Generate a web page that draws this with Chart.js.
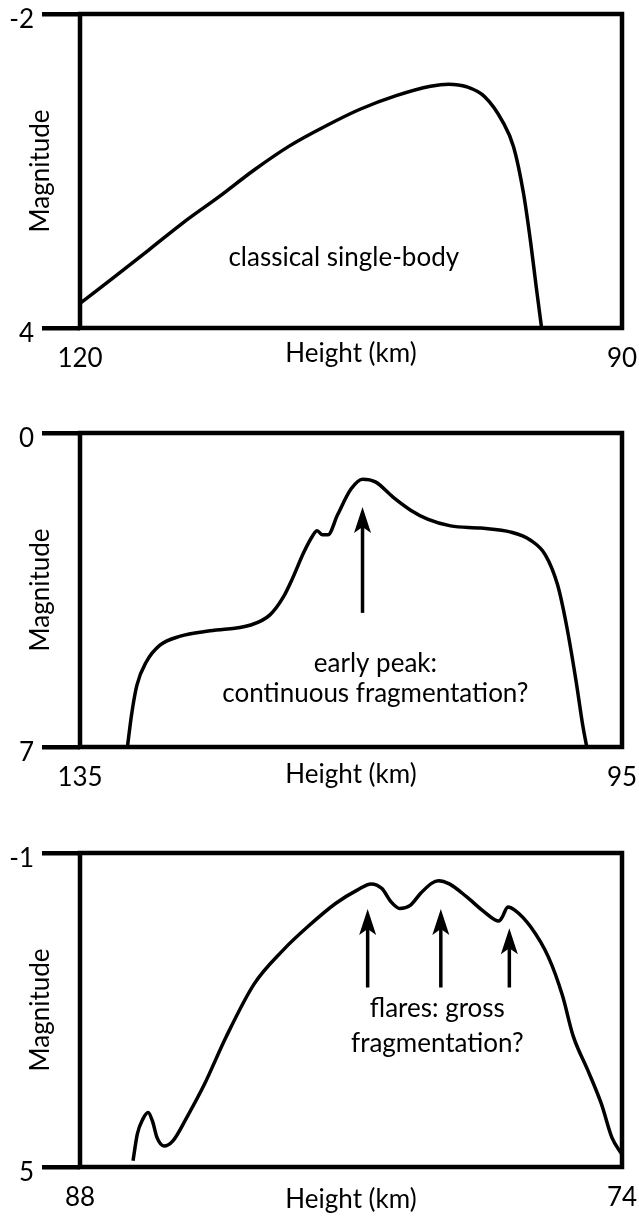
<!DOCTYPE html>
<html>
<head>
<meta charset="utf-8">
<script src="https://cdn.jsdelivr.net/npm/chart.js@4.4.1/dist/chart.umd.min.js"></script>
<style>
  body { margin: 0; background: #fff; }
  .panel { position: absolute; left: 0; }
</style>
</head>
<body>
<canvas id="chart1" class="panel" width="639" height="390" style="top:0px"></canvas>
<canvas id="chart2" class="panel" width="639" height="390" style="top:419px"></canvas>
<canvas id="chart3" class="panel" width="639" height="390" style="top:839px"></canvas>
<script>
// Light curve 1 - classical single-body
var height1 = [120, 118.2, 116.2, 114.3, 112.3, 110.4, 108.4, 106.4, 104.5, 102.5, 100.6, 99.6, 98.6, 97.6, 96.6, 96.0, 95.45, 95.05, 94.75, 94.45];
var mag1 = [3.53, 3.05, 2.51, 1.99, 1.49, 0.99, 0.52, 0.14, -0.18, -0.44, -0.62, -0.66, -0.61, -0.42, 0.06, 0.54, 1.43, 2.38, 3.21, 4.0];

// Light curve 2 - early peak
var height2 = [131.5, 131.2, 130.8, 130.1, 129.1, 127.6, 125.4, 122.4, 121.0, 120.0, 119.3, 118.5, 117.85, 117.5, 117.1, 116.7, 116.0, 115.0, 114.15, 113.2, 111.9, 110.6, 109.35, 107.65, 105.45, 103.2, 101.75, 100.65, 99.75, 99.1, 98.4, 97.9, 97.6];
var mag2 = [7.0, 6.29, 5.62, 5.10, 4.73, 4.53, 4.41, 4.28, 4.06, 3.66, 3.23, 2.67, 2.30, 2.18, 2.27, 2.27, 1.83, 1.25, 1.03, 1.09, 1.43, 1.72, 1.92, 2.07, 2.12, 2.21, 2.39, 2.72, 3.39, 4.28, 5.51, 6.51, 7.0];

// Light curve 3 - flares
var height3 = [86.63, 86.52, 86.38, 86.24, 86.13, 86.01, 85.83, 85.6, 85.24, 84.78, 84.23, 83.5, 82.76, 82.12, 81.39, 80.84, 80.48, 80.2, 79.97, 79.74, 79.47, 79.2, 78.92, 78.74, 78.46, 78.01, 77.55, 77.18, 77.09, 76.95, 76.77, 76.36, 75.9, 75.54, 75.26, 74.89, 74.53, 74.26, 74.0];
var mag3 = [4.88, 4.37, 4.09, 3.96, 4.12, 4.44, 4.6, 4.5, 4.05, 3.41, 2.52, 1.5, 0.86, 0.41, -0.04, -0.29, -0.41, -0.32, -0.07, 0.06, 0.0, -0.23, -0.42, -0.47, -0.41, -0.16, 0.13, 0.3, 0.22, 0.03, 0.09, 0.41, 0.99, 1.72, 2.5, 3.14, 3.8, 4.44, 4.76];

// axis ends: [left, right] for height, [top, bottom] for magnitude
var heightAxis1 = [120, 90], magAxis1 = [-2, 4];
var heightAxis2 = [135, 95], magAxis2 = [0, 7];
var heightAxis3 = [88, 74], magAxis3 = [-1, 5];

// arrows: height, tail magnitude, head magnitude
var arrowHeights2 = [114.15], arrowFrom2 = [4.01], arrowTo2 = [1.65];
var arrowHeights3 = [80.57, 78.68, 76.91], arrowFrom3 = [1.57, 1.57, 1.57], arrowTo3 = [0.07, 0.07, 0.44];

var FONT = "Lato, 'Liberation Sans', sans-serif";
var FSIZE = 26;

// frame, arrows and captions
var notesPlugin = {
    id: 'notes',
    afterDatasetsDraw: function (chart, args, opts) {
        var ctx = chart.ctx, xs = chart.scales.x, ys = chart.scales.y;
        var a = chart.chartArea;
        ctx.save();
        ctx.strokeStyle = '#000';
        ctx.fillStyle = '#000';
        ctx.lineWidth = 4.5;
        ctx.strokeRect(a.left, a.top, a.right - a.left, a.bottom - a.top);

        var heights = opts.arrowHeights || [];
        for (var i = 0; i < heights.length; i++) {
            var x = xs.getPixelForValue(heights[i]);
            var y0 = ys.getPixelForValue(opts.arrowFrom[i]);
            var y1 = ys.getPixelForValue(opts.arrowTo[i]);
            ctx.lineWidth = 3.5;
            ctx.beginPath();
            ctx.moveTo(x, y0);
            ctx.lineTo(x, y1 + 14);
            ctx.stroke();
            ctx.beginPath();
            ctx.moveTo(x, y1);
            ctx.lineTo(x + 8.5, y1 + 26);
            ctx.lineTo(x, y1 + 20);
            ctx.lineTo(x - 8.5, y1 + 26);
            ctx.closePath();
            ctx.fill();
        }

        ctx.font = FSIZE + 'px ' + FONT;
        ctx.textAlign = 'center';
        ctx.textBaseline = 'middle';
        (opts.texts || []).forEach(function (t) {
            ctx.fillText(t.text, xs.getPixelForValue(t.h), ys.getPixelForValue(t.m));
        });
        ctx.restore();
    }
};

function makeChart(id, heights, mags, hAxis, mAxis, titlePad, notes) {
    var points = heights.map(function (h, i) { return { x: h, y: mags[i] }; });
    var font = { family: FONT, size: FSIZE };
    return new Chart(document.getElementById(id), {
        type: 'line',
        data: {
            datasets: [{
                data: points,
                borderColor: '#000',
                borderWidth: 3.5,
                pointRadius: 0,
                fill: false,
                cubicInterpolationMode: 'monotone'
            }]
        },
        options: {
            responsive: false,
            animation: false,
            events: [],
            layout: { padding: { top: 14, right: 17, bottom: 0, left: 0 } },
            plugins: {
                legend: { display: false },
                tooltip: { enabled: false },
                notes: notes
            },
            scales: {
                x: {
                    type: 'linear',
                    reverse: true,
                    min: Math.min(hAxis[0], hAxis[1]),
                    max: Math.max(hAxis[0], hAxis[1]),
                    ticks: {
                        stepSize: Math.abs(hAxis[0] - hAxis[1]),
                        color: '#000',
                        font: font,
                        padding: 15,
                        maxRotation: 0,
                        autoSkip: false
                    },
                    grid: { display: false, drawTicks: false },
                    border: { display: false },
                    title: { display: true, text: 'Height (km)', color: '#000', font: font, padding: { top: 0, bottom: titlePad } },
                    afterFit: function (s) { s.height = 62; s.paddingLeft = 0; s.paddingRight = 0; }
                },
                y: {
                    type: 'linear',
                    reverse: true,
                    min: mAxis[0],
                    max: mAxis[1],
                    ticks: {
                        stepSize: mAxis[1] - mAxis[0],
                        color: '#000',
                        font: font,
                        padding: 8,
                        labelOffset: 6
                    },
                    grid: { drawOnChartArea: false, color: '#000', lineWidth: 4.5, tickLength: 38 },
                    border: { display: false },
                    title: { display: true, text: 'Magnitude', color: '#000', font: font, padding: { top: 25, bottom: 0 } },
                    afterFit: function (s) { s.width = 80; s.paddingTop = 0; s.paddingBottom = 0; }
                }
            }
        },
        plugins: [notesPlugin]
    });
}

makeChart('chart1', height1, mag1, heightAxis1, magAxis1, 21, {
    texts: [{ text: 'classical single-body', h: 105.4, m: 2.66 }]
});

makeChart('chart2', height2, mag2, heightAxis2, magAxis2, 19, {
    arrowHeights: arrowHeights2, arrowFrom: arrowFrom2, arrowTo: arrowTo2,
    texts: [
        { text: 'early peak:', h: 113.2, m: 5.13 },
        { text: 'continuous fragmentation?', h: 113.2, m: 5.82 }
    ]
});

makeChart('chart3', height3, mag3, heightAxis3, magAxis3, 14, {
    arrowHeights: arrowHeights3, arrowFrom: arrowFrom3, arrowTo: arrowTo3,
    texts: [
        { text: 'flares: gross', h: 78.77, m: 1.97 },
        { text: 'fragmentation?', h: 78.77, m: 2.64 }
    ]
});
</script>
</body>
</html>
